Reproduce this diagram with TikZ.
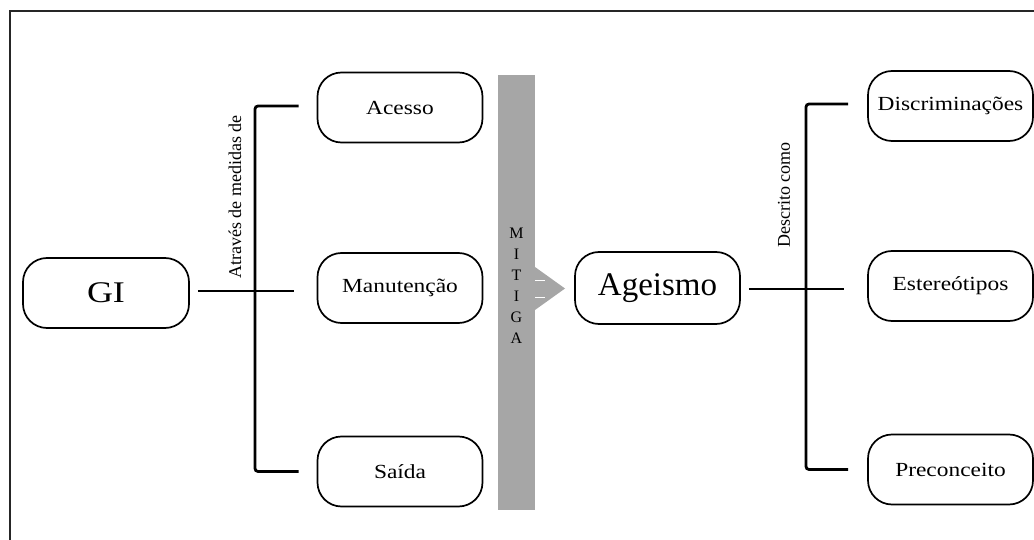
\documentclass[tikz,border=0pt]{standalone}
\usepackage{fontspec}
\usepackage{graphicx}
\setmainfont{Liberation Serif}
\newcommand{\stx}[1]{\scalebox{1.17}[1.0]{#1}}
\begin{document}
\begin{tikzpicture}[x=1pt,y=-1pt,
  box/.style={draw, line width=1.7pt, rounded corners=24pt, minimum width=165pt, minimum height=70pt, inner sep=0pt, font=\fontsize{20}{24}\selectfont},
  conn/.style={line width=2.8pt, rounded corners=3pt},
  rlabel/.style={rotate=90, inner sep=0pt, font=\fontsize{18}{21}\selectfont},
  barfill/.style={fill=black!35, draw=none}]
\useasboundingbox (0,0) rectangle (1034,540);
% frame
\draw[line width=1.6pt, black!85] (10,540) -- (10,11) -- (1034,11);
% left part
\node[box, minimum width=166pt, font=\fontsize{30}{34}\selectfont] (gi) at (106,293) {\scalebox{1.2}[1.0]{GI}};
\node[box] (acesso) at (400,107.5) {\stx{Acesso}};
\node[box] (manut) at (400,288) {\stx{Manutenção}};
\node[box] (saida) at (400,471.5) {\stx{Saída}};
\coordinate (lv) at (255,0);
\draw[conn] ([xshift=-18pt]acesso.west |- 0,106) -- (lv |- 0,106) -- (lv |- saida.west) -- ([xshift=-18pt]saida.west);
\draw[conn] ([xshift=8pt]gi.east |- 0,291) -- ([xshift=-23pt]manut.west |- 0,291);
\node[rlabel] (atraves) at (235,197) {Através de medidas de};
% bar and arrow
\path[barfill] (498,75) rectangle (535,510);
\node[inner sep=0pt, outer sep=0pt, minimum width=30pt, minimum height=43pt] (tri) at (550,288.5) {};
\path[barfill] (tri.north west) -- (tri.east) -- (tri.south west) -- cycle;
\draw[white, line width=0.5pt] (535,280) -- (545,280) (535,297) -- (545,297);
\node[align=center, inner sep=0pt, font=\fontsize{16}{21}\selectfont] (mitiga) at (516.5,286) {M\\I\\T\\I\\G\\A};
% right part
\node[box, minimum height=72pt, font=\fontsize{33}{38}\selectfont] (ageismo) at (657.5,288) {Ageismo};
\node[box] (disc) at (950.5,106) {\stx{Discriminações}};
\node[box] (este) at (950.5,286) {\stx{Estereótipos}};
\node[box] (prec) at (950.5,469.5) {\stx{Preconceito}};
\coordinate (rv) at (806,0);
\draw[conn] ([xshift=-19pt]disc.west |- 0,104) -- (rv |- 0,104) -- (rv |- prec.west) -- ([xshift=-19pt]prec.west);
\draw[conn] ([xshift=8pt]ageismo.east |- 0,289) -- ([xshift=-23pt]este.west |- 0,289);
\node[rlabel] (descrito) at (784,195) {Descrito como};
\end{tikzpicture}
\end{document}
